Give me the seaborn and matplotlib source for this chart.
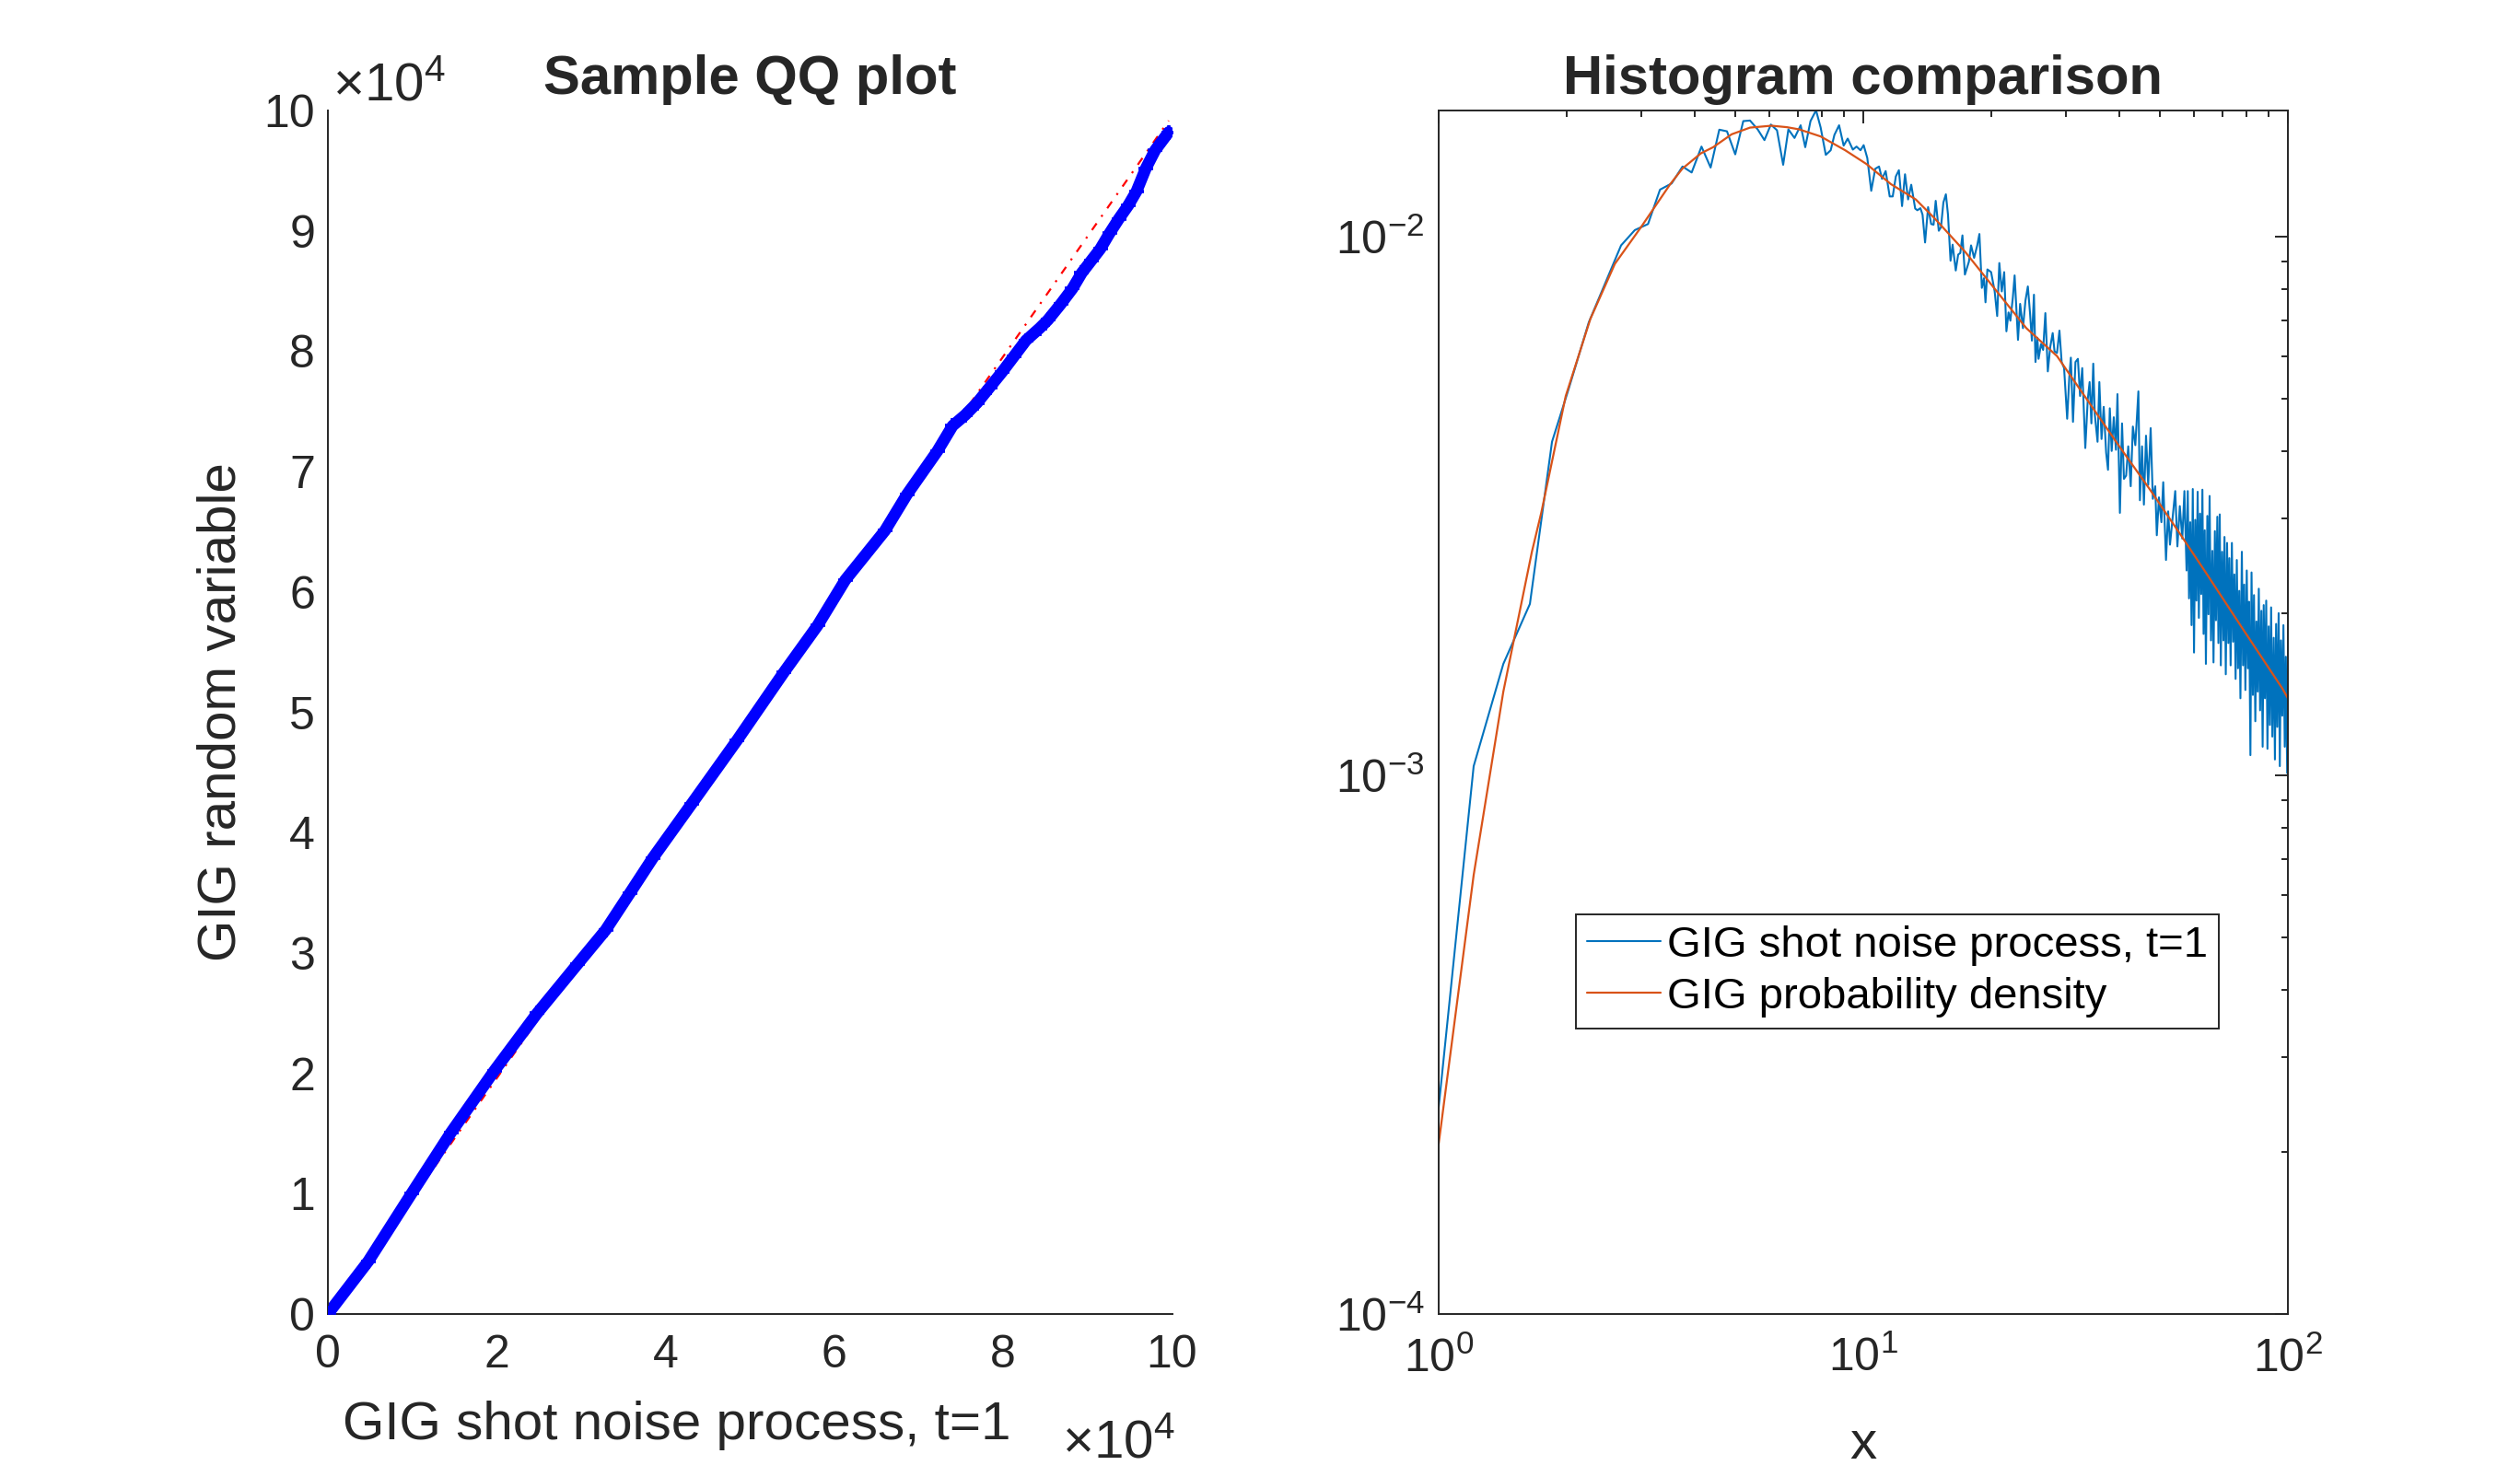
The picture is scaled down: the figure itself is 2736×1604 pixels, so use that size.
import numpy as np
import matplotlib
matplotlib.use("Agg")
import matplotlib.pyplot as plt
from matplotlib.ticker import FuncFormatter, NullFormatter, LogLocator
import seaborn as sns

# QQ plot: sample quantiles (in units of 1e3)
qq_x = [0.1, 4.8, 9.9, 14.6, 19.7, 24.8, 29.6, 32.9, 35.8, 38.5, 43.1, 48.5,
        54.0, 58.0, 61.3, 66.0, 68.6, 72.2, 74.0, 75.5, 76.9, 78.4, 79.9,
        81.3, 82.7, 84.3, 85.3, 86.8, 88.2, 89.3, 90.4, 91.5, 92.6, 93.7,
        94.8, 95.8, 96.9, 98.0, 99.6]
qq_y = [0.1, 4.4, 10.0, 15.1, 20.2, 25.0, 29.1, 31.9, 35.0, 37.9, 42.4, 47.7,
        53.3, 57.2, 61.0, 65.1, 68.1, 71.7, 73.8, 74.7, 75.7, 77.0, 78.3,
        79.6, 80.9, 81.9, 82.6, 83.9, 85.2, 86.5, 87.5, 88.5, 89.8, 91.0,
        92.1, 93.3, 95.2, 96.7, 98.2]
ref_x = [0.0, 99.6]
ref_y = [-0.4, 99.15]

# histogram of the shot noise process (bin centres, density)
hist_x = [1.0, 1.209, 1.42, 1.64, 1.849, 2.026, 2.257, 2.47, 2.689, 2.897,
          3.112, 3.321, 3.538, 3.752, 3.943, 4.159, 4.37, 4.58, 4.775, 4.994,
          5.216, 5.41, 5.64, 5.851, 6.058, 6.263, 6.476, 6.662, 6.887, 7.12,
          7.30, 7.51, 7.74, 7.935, 8.16, 8.38, 8.55, 8.77, 8.99, 9.19,
          9.45, 9.64, 9.85, 10.02, 10.22, 10.44, 10.67, 10.89, 11.07, 11.29,
          11.54, 11.73, 11.93, 12.13, 12.34, 12.54, 12.75, 12.97, 13.25,
          13.41, 13.63, 13.79, 13.98, 14.21, 14.45, 14.64, 14.81, 15.06, 15.24,
          15.44, 15.65, 15.83, 16.05, 16.23, 16.51, 16.73, 16.92, 17.12, 17.35,
          17.73, 17.94, 18.24, 18.55, 18.77, 19.02, 19.24, 19.40, 19.60, 20.0,
          20.39, 20.67, 20.91, 21.19, 21.47, 21.73, 21.98, 22.20, 22.50, 22.72,
          23.14, 23.41, 23.77, 24.09, 24.41, 24.70, 24.95, 25.23, 25.44, 25.70,
          25.87, 26.22, 26.52, 26.84, 27.20, 27.56, 27.93, 28.21, 28.59, 28.97,
          29.32, 29.71, 30.21, 30.56, 30.82, 31.18, 31.60, 32.02, 32.40, 32.78,
          33.33, 33.78, 34.12, 34.45, 34.80, 35.09, 35.62, 35.97, 36.40, 36.83,
          37.32, 37.70, 38.07, 38.46, 38.90, 39.36, 39.68, 40.21, 40.68, 41.10,
          41.59, 42.07, 42.64, 43.14, 43.72, 44.45, 44.82, 45.34, 45.80, 46.33,
          46.88, 47.51, 48.07, 48.70, 49.12, 49.69, 50.36, 50.86, 51.63, 52.24,
          52.76, 53.38, 54.28, 54.92, 55.65, 56.40, 57.05, 57.72,
          58.1, 58.5, 58.9, 59.3, 59.7, 60.1, 60.5, 60.9, 61.3, 61.7,
          62.1, 62.5, 62.9, 63.3, 63.7, 64.1, 64.6, 65.0, 65.4, 65.9,
          66.4, 66.8, 67.3, 67.7, 68.2, 68.6, 69.1, 69.5, 70.0, 70.5,
          70.9, 71.4, 71.9, 72.4, 72.8, 73.3, 73.8, 74.3, 74.8, 75.3,
          75.8, 76.3, 76.8, 77.3, 77.9, 78.4, 78.9, 79.4, 80.0, 80.5,
          81.0, 81.6, 82.1, 82.7, 83.2, 83.8, 84.3, 84.9, 85.4, 86.0,
          86.6, 87.2, 87.7, 88.3, 88.9, 89.5, 90.1, 90.7, 91.3, 91.9,
          92.6, 93.2, 93.8, 94.4, 95.1, 95.7, 96.3, 97.0, 97.6, 98.3,
          98.9, 99.6, 100.3]
hist_y = [2.42e-4, 1.04e-3, 1.61e-3, 2.08e-3, 4.16e-3, 5.23e-3, 6.93e-3, 8.21e-3, 9.63e-3, 1.028e-2,
          1.055e-2, 1.222e-2, 1.255e-2, 1.349e-2, 1.315e-2, 1.469e-2, 1.343e-2, 1.579e-2, 1.568e-2, 1.421e-2,
          1.638e-2, 1.642e-2, 1.581e-2, 1.51e-2, 1.614e-2, 1.575e-2, 1.359e-2, 1.581e-2, 1.524e-2, 1.609e-2,
          1.465e-2, 1.638e-2, 1.715e-2, 1.594e-2, 1.418e-2, 1.446e-2, 1.544e-2, 1.609e-2, 1.475e-2, 1.52e-2,
          1.45e-2, 1.469e-2, 1.446e-2, 1.478e-2, 1.399e-2, 1.216e-2, 1.336e-2, 1.349e-2, 1.28e-2, 1.323e-2,
          1.187e-2, 1.187e-2, 1.293e-2, 1.328e-2, 1.139e-2, 1.305e-2, 1.172e-2, 1.248e-2, 1.127e-2,
          1.119e-2, 1.129e-2, 1.098e-2, 9.75e-3, 1.134e-2, 1.055e-2, 1.052e-2, 1.165e-2, 1.025e-2, 1.041e-2,
          1.157e-2, 1.198e-2, 1.098e-2, 9.02e-3, 9.66e-3, 8.65e-3, 9.26e-3, 9.32e-3, 1.005e-2, 8.50e-3,
          8.98e-3, 9.63e-3, 9.13e-3, 9.63e-3, 1.011e-2, 8.03e-3, 8.37e-3, 7.55e-3, 8.69e-3, 8.59e-3,
          7.91e-3, 7.12e-3, 8.93e-3, 7.91e-3, 8.59e-3, 6.67e-3, 7.23e-3, 6.98e-3, 7.70e-3, 8.47e-3,
          6.43e-3, 7.50e-3, 6.76e-3, 7.60e-3, 8.08e-3, 7.21e-3, 6.41e-3, 7.80e-3, 5.85e-3, 6.49e-3,
          5.93e-3, 6.32e-3, 6.16e-3, 7.21e-3, 5.62e-3, 6.24e-3, 6.62e-3, 6.12e-3, 6.08e-3, 6.69e-3,
          5.85e-3, 5.70e-3, 4.59e-3, 5.48e-3, 5.96e-3, 4.53e-3, 5.85e-3, 5.93e-3, 5.06e-3, 5.70e-3,
          4.05e-3, 4.99e-3, 5.37e-3, 4.50e-3, 5.81e-3, 4.68e-3, 4.16e-3, 5.37e-3, 4.21e-3, 4.83e-3,
          3.97e-3, 3.69e-3, 4.80e-3, 4.00e-3, 4.62e-3, 4.02e-3, 5.10e-3, 3.07e-3, 4.50e-3, 3.55e-3,
          3.60e-3, 4.08e-3, 3.44e-3, 4.44e-3, 4.10e-3, 5.16e-3, 3.24e-3, 4.08e-3, 3.18e-3, 4.27e-3,
          3.46e-3, 4.41e-3, 3.26e-3, 3.44e-3, 2.79e-3, 3.28e-3, 2.95e-3, 3.50e-3, 2.51e-3, 3.09e-3,
          2.68e-3, 2.95e-3, 3.37e-3, 2.66e-3, 3.16e-3, 2.75e-3, 3.37e-3, 2.40e-3,
          3.37e-3, 2.13e-3, 2.95e-3, 1.90e-3, 3.40e-3, 1.69e-3, 2.98e-3, 2.11e-3, 3.36e-3, 1.96e-3,
          3.06e-3, 2.17e-3, 3.39e-3, 1.83e-3, 2.85e-3, 1.61e-3, 3.03e-3, 1.99e-3, 3.30e-3, 1.78e-3,
          2.61e-3, 1.62e-3, 2.84e-3, 1.94e-3, 3.02e-3, 1.76e-3, 3.05e-3, 1.60e-3, 2.60e-3, 1.78e-3,
          2.77e-3, 1.54e-3, 2.70e-3, 1.76e-3, 2.53e-3, 1.60e-3, 2.70e-3, 1.77e-3, 2.36e-3, 1.51e-3,
          2.51e-3, 1.58e-3, 2.20e-3, 1.39e-3, 2.60e-3, 1.60e-3, 2.26e-3, 1.44e-3, 2.40e-3, 1.58e-3,
          2.10e-3, 1.09e-3, 2.38e-3, 1.41e-3, 2.16e-3, 1.26e-3, 1.93e-3, 1.43e-3, 2.22e-3, 1.32e-3,
          2.02e-3, 1.13e-3, 2.07e-3, 1.39e-3, 2.11e-3, 1.12e-3, 1.89e-3, 1.24e-3, 2.05e-3, 1.18e-3,
          1.80e-3, 1.07e-3, 1.91e-3, 1.23e-3, 2.00e-3, 1.04e-3, 1.78e-3, 1.29e-3, 1.90e-3, 1.13e-3,
          1.66e-3, 1.01e-3, 1.73e-3]

# GIG probability density
pdf_x = [1.0, 1.209, 1.42, 1.658, 1.744, 1.992, 2.276, 2.6, 2.996, 3.51, 3.75,
         4.145, 4.43, 4.896, 5.41, 6.078, 6.607, 7.063, 7.935, 9.065, 10.18,
         11.62, 13.29, 14.69, 17.35, 20.5, 24.21, 28.59, 33.78, 39.9, 47.1,
         55.65, 63.6, 77.6, 97.0, 100.0]
pdf_y = [2.07e-4, 6.53e-4, 1.43e-3, 2.6e-3, 3.07e-3, 5.06e-3, 7.03e-3, 8.90e-3,
         1.041e-2, 1.251e-2, 1.337e-2, 1.427e-2, 1.465e-2, 1.548e-2, 1.593e-2,
         1.606e-2, 1.596e-2, 1.581e-2, 1.534e-2, 1.446e-2, 1.363e-2, 1.251e-2,
         1.172e-2, 1.083e-2, 9.38e-3, 7.96e-3, 6.76e-3, 6.00e-3, 4.96e-3,
         4.10e-3, 3.41e-3, 2.81e-3, 2.40e-3, 1.89e-3, 1.45e-3, 1.39e-3]

sns.set_style("white")
plt.rcParams['font.family'] = ['Liberation Sans', 'DejaVu Sans']
plt.rcParams['mathtext.fontset'] = 'custom'
plt.rcParams['mathtext.rm'] = 'Liberation Sans'
plt.rcParams['mathtext.it'] = 'Liberation Sans:italic'
plt.rcParams['mathtext.bf'] = 'Liberation Sans:bold'
plt.rcParams['axes.unicode_minus'] = False

AX_COL = '#262626'
TICK_FS = 18
LABEL_FS = 21

fig = plt.figure(figsize=(13.68, 8.02), dpi=200)
ax1 = fig.add_axes([0.1301, 0.1103, 0.3350, 0.8149])
ax2 = fig.add_axes([0.5709, 0.1103, 0.3370, 0.8149])

# ---------------- left: sample QQ plot ----------------
qx = np.array(qq_x) * 1e3
qy = np.array(qq_y) * 1e3
sns.lineplot(x=np.array(ref_x) * 1e3, y=np.array(ref_y) * 1e3, ax=ax1,
             color='red', lw=0.8, linestyle=(0, (4, 4, 1, 4)), zorder=1)
sns.lineplot(x=qx, y=qy, ax=ax1, estimator=None, sort=False,
             color='blue', lw=4.6, zorder=2)
sns.scatterplot(x=qx, y=qy, ax=ax1, marker='+', s=36, color='blue',
                linewidth=1.3, zorder=3)
ax1.set_xlim(0, 1e5)
ax1.set_ylim(0, 1e5)
ax1.set_xticks(np.arange(0, 100001, 20000))
ax1.set_yticks(np.arange(0, 100001, 10000))
fmt = FuncFormatter(lambda v, p: '%d' % round(v / 1e4))
ax1.xaxis.set_major_formatter(fmt)
ax1.yaxis.set_major_formatter(fmt)
for s in ['top', 'right']:
    ax1.spines[s].set_visible(False)
for s in ['left', 'bottom']:
    ax1.spines[s].set_color(AX_COL)
    ax1.spines[s].set_linewidth(0.7)
ax1.tick_params(axis='both', direction='in', length=5, width=0.7,
                colors=AX_COL, labelsize=TICK_FS)
ax1.tick_params(axis='x', pad=8)
ax1.tick_params(axis='y', pad=5)
ax1.set_title('Sample QQ plot', fontsize=21.5, fontweight='bold', pad=6.5)
ax1.set_xlabel('GIG shot noise process, t=1', fontsize=LABEL_FS, color=AX_COL)
ax1.set_ylabel('GIG random variable', fontsize=LABEL_FS, color=AX_COL)
ax1.xaxis.set_label_coords(0.413, -0.072)
ax1.yaxis.set_label_coords(-0.096, 0.5)
ax1.text(0.005, 1.009, '\u00d710$^{4}$', transform=ax1.transAxes,
         ha='left', va='baseline', fontsize=21, color=AX_COL)
ax1.text(0.870, -0.1186, '\u00d710$^{4}$', transform=ax1.transAxes,
         ha='left', va='baseline', fontsize=21, color=AX_COL)

# ---------------- right: histogram comparison ----------------
sns.lineplot(x=hist_x, y=hist_y, ax=ax2, estimator=None, sort=False,
             color='#0072BD', lw=0.75, label='GIG shot noise process, t=1')
sns.lineplot(x=pdf_x, y=pdf_y, ax=ax2, estimator=None, sort=False,
             color='#D95319', lw=0.8, label='GIG probability density')
ax2.set_xscale('log')
ax2.set_yscale('log')
ax2.set_xlim(1, 100)
ax2.set_ylim(1e-4, 0.01714)
ax2.xaxis.set_major_locator(LogLocator(base=10))
ax2.yaxis.set_major_locator(LogLocator(base=10))
ax2.xaxis.set_minor_locator(LogLocator(base=10, subs=np.arange(2, 10)))
ax2.yaxis.set_minor_locator(LogLocator(base=10, subs=np.arange(2, 10)))
ax2.xaxis.set_minor_formatter(NullFormatter())
ax2.yaxis.set_minor_formatter(NullFormatter())
for s in ax2.spines.values():
    s.set_color(AX_COL)
    s.set_linewidth(0.7)
ax2.tick_params(axis='both', which='both', direction='in', top=True,
                right=True, width=0.7, colors=AX_COL, labelsize=TICK_FS)
ax2.tick_params(which='major', length=5)
ax2.tick_params(which='minor', length=2.5)
ax2.tick_params(axis='x', which='both', pad=9)
ax2.tick_params(axis='y', which='both', pad=5.5)
ax2.set_title('Histogram comparison', fontsize=21.5, fontweight='bold', pad=6.5)
ax2.set_xlabel('x', fontsize=LABEL_FS, color=AX_COL)
ax2.set_ylabel('')
ax2.xaxis.set_label_coords(0.5, -0.088)

leg = ax2.legend(loc='upper left', bbox_to_anchor=(0.1616, 0.332),
                 borderaxespad=0, fontsize=17, frameon=True, fancybox=False,
                 framealpha=1, edgecolor=AX_COL, borderpad=0.25,
                 labelspacing=0.25, handlelength=1.7, handletextpad=0.15)
leg.get_frame().set_linewidth(0.7)
for t in leg.get_texts():
    t.set_color('black')

fig.savefig('out.png', dpi=200, facecolor='white')
